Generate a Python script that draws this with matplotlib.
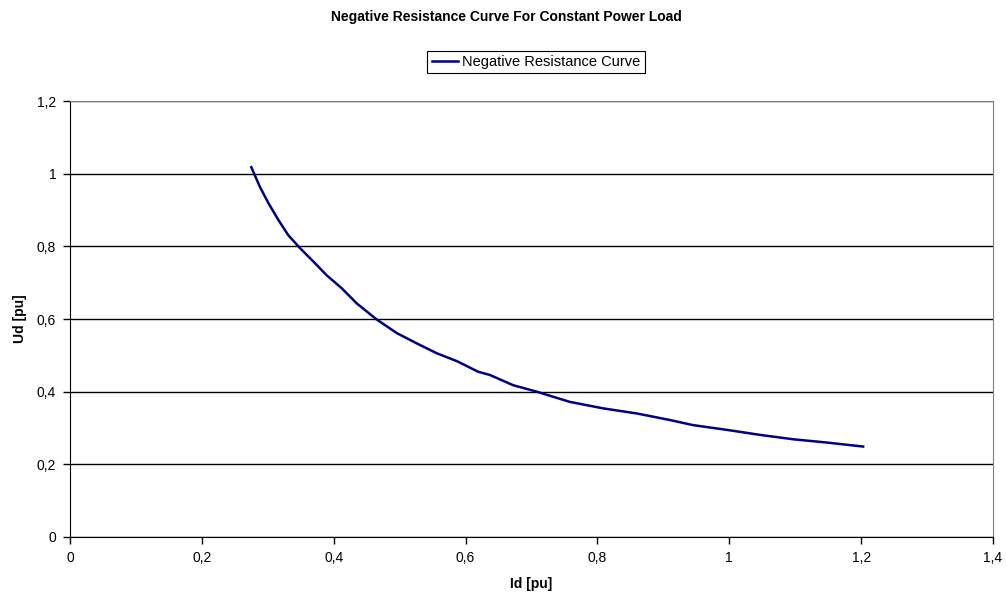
import matplotlib
matplotlib.use("Agg")
import matplotlib.pyplot as plt
from matplotlib.ticker import FuncFormatter, MultipleLocator

plt.rcParams['font.family'] = ['Liberation Sans', 'DejaVu Sans']

# values
id_pu = [0.275, 0.288, 0.301, 0.316, 0.331, 0.349, 0.372, 0.389, 0.412, 0.435,
         0.465, 0.496, 0.526, 0.556, 0.587, 0.619, 0.637, 0.672, 0.708, 0.758,
         0.809, 0.860, 0.910, 0.945, 0.996, 1.047, 1.097, 1.148, 1.203]
ud_pu = [1.018, 0.964, 0.919, 0.873, 0.831, 0.795, 0.753, 0.721, 0.685, 0.643,
         0.599, 0.561, 0.533, 0.506, 0.484, 0.455, 0.446, 0.418, 0.400, 0.372,
         0.354, 0.340, 0.322, 0.308, 0.295, 0.281, 0.269, 0.260, 0.249]

fig = plt.figure(figsize=(10.06, 6.02), dpi=100)
ax = fig.add_axes([0.0696, 0.108, 0.9175, 0.724])

ax.plot(id_pu, ud_pu, color='#000080', lw=1.8, label='Negative Resistance Curve')

ax.set_xlim(0, 1.4)
ax.set_ylim(0, 1.2)
ax.xaxis.set_major_locator(MultipleLocator(0.2))
ax.yaxis.set_major_locator(MultipleLocator(0.2))
comma = FuncFormatter(lambda v, p: ('%g' % round(v, 2)).replace('.', ','))
ax.xaxis.set_major_formatter(comma)
ax.yaxis.set_major_formatter(comma)
ax.tick_params(direction='out', length=5, width=1, labelsize=10, colors='black', pad=5)
ax.grid(axis='y', color='black', lw=1)
ax.set_axisbelow(True)

for s in ['top', 'right']:
    ax.spines[s].set_color('#808080')
for s in ['left', 'bottom']:
    ax.spines[s].set_color('black')

ax.set_xlabel('Id [pu]', fontsize=10, fontweight='bold', labelpad=9)
ax.set_ylabel('Ud [pu]', fontsize=10, fontweight='bold', labelpad=7)

fig.suptitle('Negative Resistance Curve For Constant Power Load',
             fontsize=10, fontweight='bold', x=0.503, y=0.983)
leg = fig.legend(loc='center', bbox_to_anchor=(0.533, 0.897), fontsize=10.5,
                 fancybox=False, edgecolor='black', framealpha=1,
                 handlelength=1.8, handletextpad=0.3, borderpad=0.3)
leg.get_frame().set_linewidth(0.8)

fig.savefig('out.png', dpi=100)
